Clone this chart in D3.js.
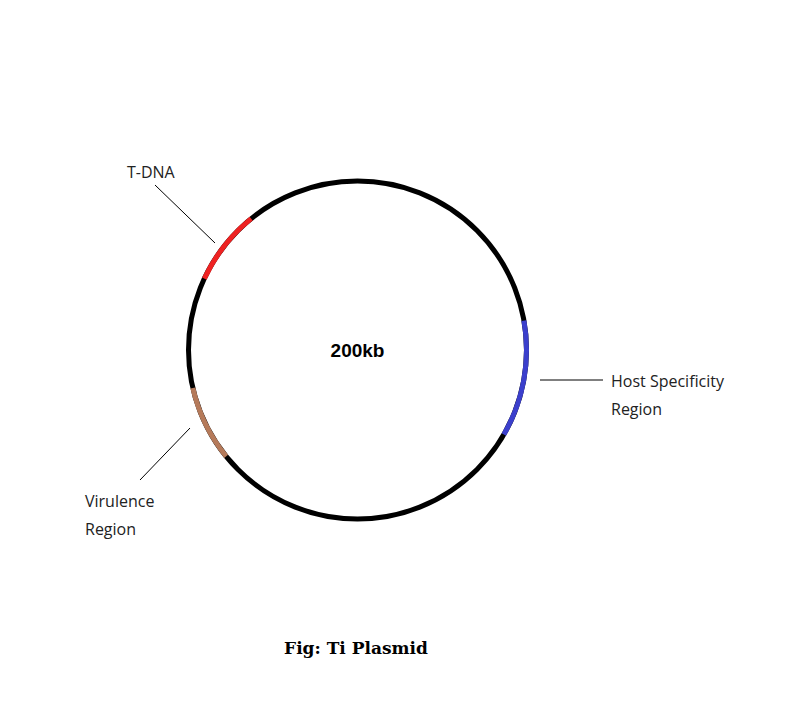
<!DOCTYPE html>
<html><head><meta charset="utf-8">
<script src="https://cdn.jsdelivr.net/npm/d3@7"></script>
<style>body{margin:0;background:#fff}</style></head>
<body><svg id="c" width="803" height="712"></svg>
<script>
const regions = ["T-DNA","Host Specificity Region","Virulence Region"];
const startDeg = [-65, 80, 231];
const endDeg = [-39, 120, 257];
const colors = ["#ee2222","#3b3fcc","#b57a5a"];
const sizeLabel = "200kb";
const title = "Fig: Ti Plasmid";

const svg = d3.select("#c");
const cx = 357.5, cy = 350, r = 169;
const g = svg.append("g").attr("transform", `translate(${cx},${cy})`);
g.append("circle").attr("r", r).attr("fill","none").attr("stroke","#000").attr("stroke-width",5);
const rad = d3.scaleLinear().domain([0,360]).range([0, 2*Math.PI]);
const arc = d3.arc().innerRadius(r-2.5).outerRadius(r+2.5);
regions.forEach((n,i)=>{
  g.append("path").attr("d", arc({startAngle: rad(startDeg[i]), endAngle: rad(endDeg[i])})).attr("fill", colors[i]);
});
g.append("text").attr("y",7).attr("text-anchor","middle").attr("font-family","Liberation Sans, Arial").attr("font-weight","bold").attr("font-size",19).text(sizeLabel);

const lines = [[155,185,215,243],[540,380,603,380],[190,428,140,480]];
lines.forEach(l=>svg.append("line").attr("x1",l[0]).attr("y1",l[1]).attr("x2",l[2]).attr("y2",l[3]).attr("stroke","#000").attr("stroke-width",1));
const font = "Open Sans, Noto Sans, sans-serif";
const labs = [[127,178,["T-DNA"]],[611,387,["Host Specificity","Region"]],[85,507,["Virulence","Region"]]];
labs.forEach(([x,y,ls])=>{
  ls.forEach((t,j)=>svg.append("text").attr("x",x).attr("y",y+j*28).attr("font-family",font).attr("font-size",16).attr("fill","#222").text(t));
});
svg.append("text").attr("x",356).attr("y",654).attr("text-anchor","middle").attr("font-family","DejaVu Serif").attr("font-weight","bold").attr("font-size",17).text(title);
</script></body></html>
